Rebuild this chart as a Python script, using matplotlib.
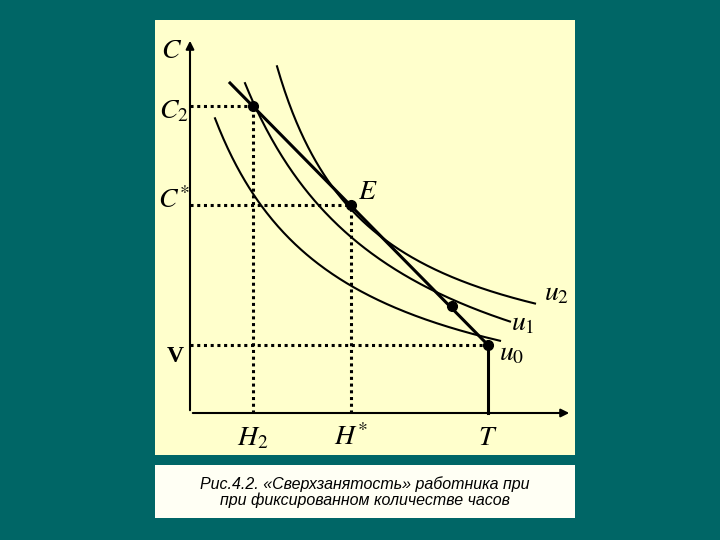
import numpy as np
import matplotlib
matplotlib.use("Agg")
import matplotlib.pyplot as plt
from matplotlib.patches import Rectangle

plt.rcParams['mathtext.fontset'] = 'stix'

# key values (diagram units)
H2, Hs, T = 63, 161, 298
C2, Cs, V = 307, 208, 68
budget = [(40, 330), (T, V)]
# points; (x start, x end)
curves = {
    'u_0': ([(25, 298), (63, 213), (210, 108), (298, 73)], (25, 310)),
    'u_1': ([(55, 330), (63, 307), (160, 186), (190, 150), (262, 110), (320, 93)], (55, 320)),
    'u_2': ([(87, 345), (161, 208), (210, 160), (290, 125), (345, 110)], (87, 345)),
}
extra_dot = (262, 107)
caption = "Рис.4.2. «Сверхзанятость» работника при\nпри фиксированном количестве часов"

fig = plt.figure(figsize=(7.2, 5.4), dpi=100, facecolor='#006666')
ax = fig.add_axes([155/720, 85/540, 420/720, 435/540])
ax.set_facecolor('#ffffcc')
ax.set_xlim(-35, 385)
ax.set_ylim(-42, 393)
ax.axis('off')
ax.add_patch(Rectangle((0, 0), 1, 1, transform=ax.transAxes, color='#ffffcc', zorder=0))

ax.annotate('', xy=(382, 0), xytext=(0, 0), arrowprops=dict(arrowstyle='-|>', color='black', lw=1.5, mutation_scale=12))
ax.annotate('', xy=(0, 375), xytext=(0, 0), arrowprops=dict(arrowstyle='-|>', color='black', lw=1.5, mutation_scale=12))

for name, (pts, (x0, x1)) in curves.items():
    A = np.array([[-y, x, 1.0] for x, y in pts])
    b = np.array([x * y for x, y in pts])
    (a, c, m), *_ = np.linalg.lstsq(A, b, rcond=None)
    k = m - a * c
    xs = np.linspace(x0, x1, 200)
    ax.plot(xs, c + k / (xs + a), color='black', lw=1.5)

bx, by = zip(*budget)
ax.plot(bx, by, color='black', lw=2.2)
ax.plot([T, T], [0, V], color='black', lw=2.2)

dot = dict(color='black', lw=2.2, linestyle=(0, (1, 1.2)))
for hx, cy in [(H2, C2), (Hs, Cs)]:
    ax.plot([0, hx], [cy, cy], **dot)
    ax.plot([hx, hx], [0, cy], **dot)
ax.plot([0, T], [V, V], **dot)

ax.plot([H2, Hs, extra_dot[0], T], [C2, Cs, extra_dot[1], V], 'o', color='black', ms=7)

fs = 20
ax.text(-18, 363, '$C$', fontsize=fs, ha='center', va='center')
ax.text(-16, 303, '$C_2$', fontsize=fs, ha='center', va='center')
ax.text(-16, 213, '$C^{*}$', fontsize=fs, ha='center', va='center')
ax.text(-15, 57, 'V', fontsize=17, ha='center', va='center', family='Liberation Serif', weight='bold')
ax.text(H2, -24, '$H_2$', fontsize=fs, ha='center', va='center')
ax.text(Hs, -24, '$H^{*}$', fontsize=fs, ha='center', va='center')
ax.text(T, -24, '$T$', fontsize=fs, ha='center', va='center')
ax.text(Hs + 17, 222, '$E$', fontsize=fs, ha='center', va='center')
ax.text(367, 121, '$u_2$', fontsize=fs, ha='center', va='center')
ax.text(333, 91, '$u_1$', fontsize=fs, ha='center', va='center')
ax.text(322, 61, '$u_0$', fontsize=fs, ha='center', va='center')

fig.patches.append(Rectangle((155/720, 22/540), 420/720, 53/540, transform=fig.transFigure,
                             facecolor='#fffff4', edgecolor='none'))
fig.text(365/720, 48/540, caption, ha='center', va='center', fontsize=11.5,
         family='Liberation Sans', style='italic', linespacing=1.05)

fig.savefig('out.png', dpi=100, facecolor=fig.get_facecolor())
